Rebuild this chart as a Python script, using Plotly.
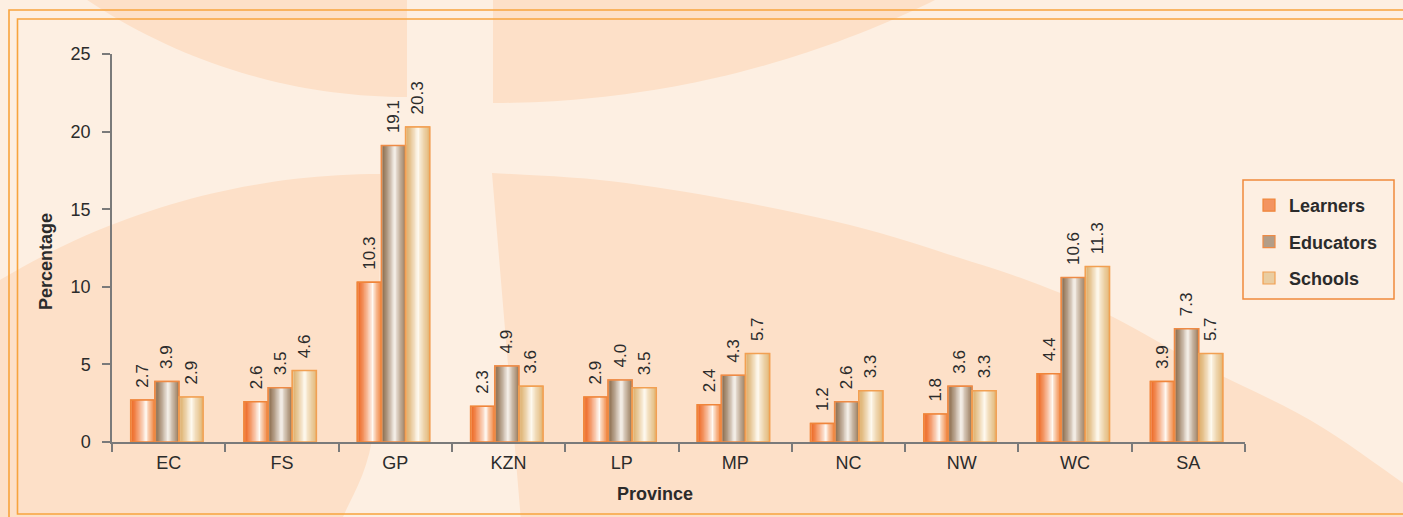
import math
import plotly.graph_objects as go

# ---------------- data ----------------
provinces = ["EC", "FS", "GP", "KZN", "LP", "MP", "NC", "NW", "WC", "SA"]
learners = [2.7, 2.6, 10.3, 2.3, 2.9, 2.4, 1.2, 1.8, 4.4, 3.9]
educators = [3.9, 3.5, 19.1, 4.9, 4.0, 4.3, 2.6, 3.6, 10.6, 7.3]
schools = [2.9, 4.6, 20.3, 3.6, 3.5, 5.7, 3.3, 3.3, 11.3, 5.7]
series_names = ["Learners", "Educators", "Schools"]
y_ticks = [0, 5, 10, 15, 20, 25]
x_title = "Province"
y_title = "Percentage"

# ---------------- layout geometry ----------------
W, H = 1403, 517
ML, MR, MT, MB = 112, 158, 54, 75
PW, PH = W - ML - MR, H - MT - MB
FONT = "Liberation Sans, Arial, Helvetica, sans-serif"
TXT = "#2b2b2b"
CREAM = "#fdefe2"
PEACH = "#fde0c8"
FRAME = "#f8a43e"
EDGE = "#f08a3c"


def px(x):
    return (x - ML) / PW


def py(y):
    return (H - MB - y) / PH


def hex2rgb(h):
    h = h.lstrip("#")
    return tuple(int(h[i:i + 2], 16) for i in (0, 2, 4))


def mix(a, b, t):
    return tuple(a[i] + (b[i] - a[i]) * t for i in range(3))


def rgb(c):
    return "rgb(%d,%d,%d)" % tuple(round(v) for v in c)


def grad_color(left, peak, right, ppos, p):
    L, P, R = hex2rgb(left), hex2rgb(peak), hex2rgb(right)
    if p < ppos:
        t = p / ppos
        return rgb(mix(L, P, t ** 1.25))
    t = (p - ppos) / (1 - ppos)
    return rgb(mix(P, R, t ** 0.75))


styles = [
    dict(left="#ed6620", peak="#fffaf4", right="#f0843e", ppos=0.64, edge="#f0853a"),
    dict(left="#8a6a4a", peak="#fbf7f2", right="#9b7d5e", ppos=0.56, edge="#ee8a45"),
    dict(left="#dcae6a", peak="#fffcf4", right="#e2b878", ppos=0.52, edge="#f2a052"),
]
values = [learners, educators, schools]

BW = 0.213          # bar width (category units)
G0 = -0.335         # left edge of the group relative to category centre
NSTRIP = 18

fig = go.Figure()

# gradient strips (nested so that there are no seams)
for s, (name, vals, st) in enumerate(zip(series_names, values, styles)):
    o = G0 + s * BW
    for i in range(NSTRIP):
        p = (i + 0.5) / NSTRIP
        col = grad_color(st["left"], st["peak"], st["right"], st["ppos"], p)
        first = i == 0
        fig.add_trace(go.Bar(
            x=provinces, y=vals, name=name,
            legendgroup=name, showlegend=first,
            offset=o + i * BW / NSTRIP, width=BW * (1 - i / NSTRIP),
            marker=dict(color=col if not first else grad_color(st["left"], st["peak"], st["right"], st["ppos"], 0.25),
                        line=dict(color=st["edge"] if first else col, width=1.2 if first else 0)),
            hoverinfo="skip",
        ))

# outlines + value labels on top
for s, (name, vals, st) in enumerate(zip(series_names, values, styles)):
    o = G0 + s * BW
    fig.add_trace(go.Bar(
        x=provinces, y=vals, name=name, legendgroup=name, showlegend=False,
        offset=o, width=BW,
        marker=dict(color="rgba(0,0,0,0)", line=dict(color=st["edge"], width=1.5)),
        texttemplate="\u00a0\u00a0%{y:.1f}", textposition="outside", textangle=-90,
        constraintext="none", cliponaxis=False,
        textfont=dict(family=FONT, size=17, color=TXT),
        hovertemplate=name + " %{x}: %{y:.1f}<extra></extra>",
    ))


# ---------------- background decoration ----------------
def circle_pts(cx, cy, r, xs, below=True):
    pts = []
    for x in xs:
        d = math.sqrt(max(r * r - (x - cx) ** 2, 0))
        pts.append((x, cy + d if below else cy - d))
    return pts


def lin(a, b, n):
    return [a + (b - a) * k / (n - 1) for k in range(n)]


def poly_path(pts):
    s = "M %.5f,%.5f " % (px(pts[0][0]), py(pts[0][1]))
    for (x, y) in pts[1:]:
        s += "L %.5f,%.5f " % (px(x), py(y))
    return s + "Z"


def smooth(pts, n=8):
    out = []
    m = len(pts)
    for i in range(m - 1):
        p0 = pts[max(i - 1, 0)]
        p1 = pts[i]
        p2 = pts[i + 1]
        p3 = pts[min(i + 2, m - 1)]
        for k in range(n):
            t = k / n
            t2, t3 = t * t, t * t * t
            x = 0.5 * ((2 * p1[0]) + (-p0[0] + p2[0]) * t + (2 * p0[0] - 5 * p1[0] + 4 * p2[0] - p3[0]) * t2 + (-p0[0] + 3 * p1[0] - 3 * p2[0] + p3[0]) * t3)
            y = 0.5 * ((2 * p1[1]) + (-p0[1] + p2[1]) * t + (2 * p0[1] - 5 * p1[1] + 4 * p2[1] - p3[1]) * t2 + (-p0[1] + 3 * p1[1] - 3 * p2[1] + p3[1]) * t3)
            out.append((x, y))
    out.append(pts[-1])
    return out


shapes = []
tl = [(407, -30), (407, 97)] + circle_pts(407, -479, 576, lin(407, 45, 40), below=True)
tr = [(493, -30), (493, 103)] + circle_pts(493, -897, 1000, lin(493, 990, 50), below=True)
bl_arc = circle_pts(380, 908, 734, lin(-30, 380, 40), below=False)
bl_edge = smooth([(380, 174), (379, 300), (372, 440), (343, 517), (330, 545)])
bl = bl_arc + bl_edge[1:] + [(-30, 545)]
br_top = smooth([(492, 173), (600, 180), (715, 197), (850, 225), (960, 258), (1040, 285),
                 (1113, 317), (1200, 365), (1310, 420), (1403, 483), (1440, 510)])
br = br_top + [(1440, 545), (523, 545)]
for pts in (tl, tr, bl, br):
    shapes.append(dict(type="path", xref="paper", yref="paper", path=poly_path(pts),
                       fillcolor=PEACH, line=dict(width=0), layer="below"))

# double frame
shapes.append(dict(type="rect", xref="paper", yref="paper",
                   x0=px(9), x1=px(1440), y0=py(10), y1=py(560),
                   line=dict(color=FRAME, width=1.6), layer="below"))
shapes.append(dict(type="rect", xref="paper", yref="paper",
                   x0=px(17.5), x1=px(1440), y0=py(19), y1=py(514),
                   line=dict(color=FRAME, width=1.6), layer="below"))
# legend box
shapes.append(dict(type="rect", xref="paper", yref="paper",
                   x0=px(1243), x1=px(1394), y0=py(180), y1=py(299),
                   line=dict(color=EDGE, width=1.5), layer="below"))

annotations = [
    dict(text=y_title, xref="paper", yref="paper", x=px(46), y=py(262), textangle=-90,
         xanchor="center", yanchor="middle",
         showarrow=False, font=dict(family=FONT, size=18, color=TXT, weight="bold")),
    dict(text=x_title, xref="paper", yref="paper", x=px(655), y=py(494),
         xanchor="center", yanchor="middle",
         showarrow=False, font=dict(family=FONT, size=18, color=TXT, weight="bold")),
]

fig.update_layout(
    width=W, height=H,
    margin=dict(l=ML, r=MR, t=MT, b=MB, pad=0),
    paper_bgcolor=CREAM, plot_bgcolor="rgba(0,0,0,0)",
    barmode="overlay",
    showlegend=True,
    legend=dict(x=px(1249), xanchor="left", y=py(187), yanchor="top",
                bgcolor="rgba(0,0,0,0)", borderwidth=0,
                traceorder="grouped", tracegroupgap=10,
                font=dict(family=FONT, size=18, color=TXT, weight="bold")),
    shapes=shapes,
    annotations=annotations,
    font=dict(family=FONT, color=TXT),
)
fig.update_xaxes(
    type="category", categoryorder="array", categoryarray=provinces,
    showline=True, linecolor="#7a7a7a", linewidth=1.5,
    ticks="outside", tickson="boundaries", ticklen=8, tickwidth=1.5, tickcolor="#7a7a7a",
    ticklabelstandoff=4,
    showgrid=False, zeroline=False,
    tickfont=dict(family=FONT, size=18, color=TXT),
)
fig.update_yaxes(
    range=[0, 25], tickvals=y_ticks, ticktext=[str(v) for v in y_ticks],
    showline=True, linecolor="#7a7a7a", linewidth=1.5,
    ticks="outside", ticklen=8, tickwidth=1.5, tickcolor="#7a7a7a",
    ticklabelstandoff=8,
    showgrid=False, zeroline=False,
    tickfont=dict(family=FONT, size=18, color=TXT),
)

fig.write_html(
    "out.html",
    config={"displayModeBar": False},
    post_script="document.body.style.margin='0px';document.body.style.overflow='hidden';",
)
